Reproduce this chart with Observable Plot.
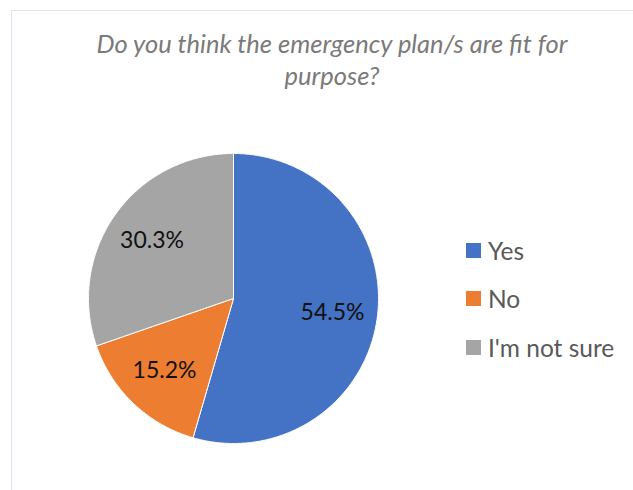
<!DOCTYPE html>
<html>
<head>
<meta charset="utf-8">
<script src="https://cdn.jsdelivr.net/npm/d3@7"></script>
<script src="https://cdn.jsdelivr.net/npm/@observablehq/plot@0.6"></script>
<style>
  html, body { margin: 0; padding: 0; background: #fff; }
  #wrap { position: relative; width: 633px; height: 490px; overflow: hidden; font-family: Lato, "Open Sans", sans-serif; }
  #frame { position: absolute; left: 11px; top: 10px; width: 700px; height: 600px; border: 1px solid #dae4f2; pointer-events: none; }
  #title { position: absolute; left: 0; top: 27px; width: 664px; text-align: center; font-style: italic; font-size: 25.5px; line-height: 32px; color: #7a7a7a; }
  #legend { position: absolute; left: 466px; top: 226px; color: #595959; font-size: 24.5px; }
  .item { display: flex; align-items: center; height: 48.5px; }
  .sw { width: 15px; height: 15px; margin-right: 7px; }
  #chart { position: absolute; left: 0; top: 0; }
</style>
</head>
<body>
<div id="wrap">
  <div id="chart"></div>
  <div id="title"></div>
  <div id="legend"></div>
  <div id="frame"></div>
</div>
<script>
const titleLines = ["Do you think the emergency plan/s are fit for", "purpose?"];
const categories = ["Yes", "No", "I'm not sure"];
const values = [54.5, 15.2, 30.3];
const labels = ["54.5%", "15.2%", "30.3%"];
const colors = ["#4472C4", "#ED7D31", "#A5A5A5"];

// title
document.getElementById("title").innerHTML = titleLines.join("<br>");

// legend
const legend = document.getElementById("legend");
categories.forEach((c, i) => {
  const it = document.createElement("div");
  it.className = "item";
  const sw = document.createElement("div");
  sw.className = "sw";
  sw.style.background = colors[i];
  const t = document.createElement("span");
  t.textContent = c;
  it.appendChild(sw); it.appendChild(t);
  legend.appendChild(it);
});

// pie geometry (angles clockwise from 12 o'clock)
const total = d3.sum(values);
let acc = 0;
const pts = [];
const labelData = [];
categories.forEach((c, i) => {
  const a0 = acc / total * 2 * Math.PI;
  acc += values[i];
  const a1 = acc / total * 2 * Math.PI;
  pts.push({key: c, x: 0, y: 0});
  const n = Math.max(2, Math.ceil((a1 - a0) / (Math.PI / 360)));
  for (let k = 0; k <= n; k++) {
    const a = a0 + (a1 - a0) * k / n;
    pts.push({key: c, x: Math.sin(a), y: Math.cos(a)});
  }
  pts.push({key: c, x: 0, y: 0});
  const am = (a0 + a1) / 2;
  labelData.push({key: c, text: labels[i], x: 0.69 * Math.sin(am), y: 0.69 * Math.cos(am)});
});

const plot = Plot.plot({
  width: 633,
  height: 490,
  marginLeft: 88,
  marginRight: 255,
  marginTop: 153,
  marginBottom: 47,
  style: {background: "transparent", fontFamily: "Lato, 'Open Sans', sans-serif"},
  x: {domain: [-1, 1], axis: null},
  y: {domain: [-1, 1], axis: null},
  color: {domain: categories, range: colors},
  marks: [
    Plot.line(pts, {x: "x", y: "y", z: "key", fill: "key", stroke: "white", strokeWidth: 1, strokeLinejoin: "miter"}),
    Plot.text(labelData, {x: "x", y: "y", text: "text", fontSize: 23, fill: "#111"})
  ]
});
document.getElementById("chart").appendChild(plot);
</script>
</body>
</html>
